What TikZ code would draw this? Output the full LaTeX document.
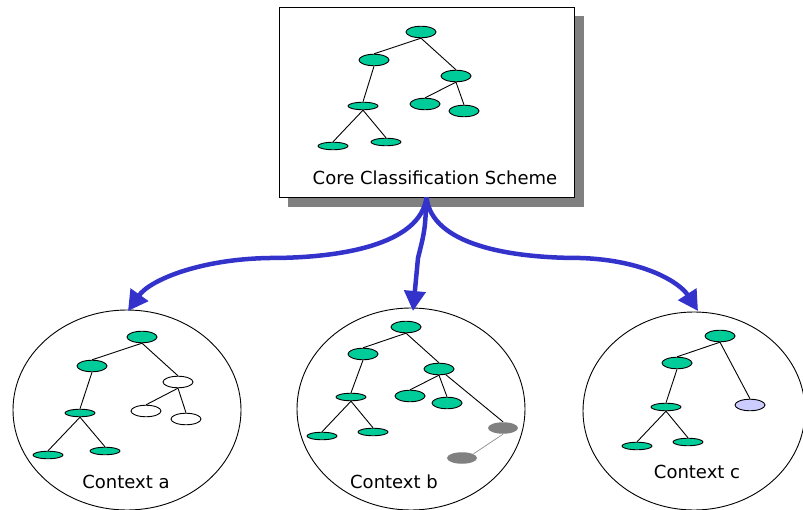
\documentclass[tikz,border=0pt]{standalone}
\usepackage{fontspec}
\setmainfont{DejaVu Sans}
\usetikzlibrary{shapes.geometric,arrows.meta}
\definecolor{leafgreen}{RGB}{0,204,153}
\definecolor{ghostgray}{RGB}{128,128,128}
\definecolor{lilacfill}{RGB}{204,204,255}
\definecolor{flowblue}{RGB}{51,51,204}
\begin{document}
\begin{tikzpicture}[x=1pt,y=-1pt,
  nd/.style={ellipse,draw,line width=0.9pt,fill=leafgreen,minimum width=30pt,minimum height=11.5pt,inner sep=0pt},
  flat/.style={nd,minimum height=7.5pt},
  blank/.style={nd,fill=white},
  ghost/.style={nd,draw=none,fill=ghostgray},
  lilac/.style={nd,fill=lilacfill},
  edge/.style={line width=0.9pt},
  ctx/.style={ellipse,draw,line width=0.9pt,inner sep=0pt},
  lbl/.style={font=\fontsize{18}{21}\selectfont},
  flow/.style={draw=flowblue,line width=4.5pt,-{Triangle[width=21pt,length=20pt]}}]
\useasboundingbox (0,0) rectangle (803,510);

% ---- core scheme box with its shadow ----
\node[fill=ghostgray,minimum width=296pt,minimum height=191pt,inner sep=0pt] (coreshadow) at (436,111.5) {};
\node[draw,fill=white,line width=0.9pt,minimum width=295pt,minimum height=190pt,inner sep=0pt] (core) at (426.5,102) {};

\node[nd]   (r)   at (421,32)  {};
\node[nd]   (l)   at (374,60)  {};
\node[nd]   (rc)  at (456,76)  {};
\node[flat] (ll)  at (363,106) {};
\node[nd]   (rc1) at (425,104) {};
\node[nd]   (rc2) at (464,111) {};
\node[flat] (ll1) at (333,146) {};
\node[flat] (ll2) at (386,142) {};
\draw[edge] (r.south) -- (l.north);
\draw[edge] (r.south) -- (rc.north);
\draw[edge] (l.south) -- (ll.north);
\draw[edge] (ll.south) -- (ll1.north);
\draw[edge] (ll.south) -- (ll2.north);
\draw[edge] (rc.south) -- (rc1.north);
\draw[edge] (rc.south) -- (rc2.north);
\node[lbl] (corelbl) at (435,178) {Core Classification Scheme};

% ---- context a ----
\node[ctx,minimum width=228pt,minimum height=200pt] (ca) at (127,410) {};
\node[nd]    (ar)   at (142,337) {};
\node[nd]    (al)   at (92,366)  {};
\node[blank] (arc)  at (178,382) {};
\node[flat]  (all)  at (80,413)  {};
\node[blank] (arc1) at (146,411) {};
\node[blank] (arc2) at (186,419) {};
\node[flat]  (all1) at (48,455)  {};
\node[flat]  (all2) at (105,451) {};
\draw[edge] (ar.south) -- (al.north);
\draw[edge] (ar.south) -- (arc.north);
\draw[edge] (al.south) -- (all.north);
\draw[edge] (all.south) -- (all1.north);
\draw[edge] (all.south) -- (all2.north);
\draw[edge] (arc.south) -- (arc1.north);
\draw[edge] (arc.south) -- (arc2.north);
\node[lbl] (alabel) at (126,482) {Context a};

% ---- context b ----
\node[ctx,minimum width=228pt,minimum height=202pt] (cb) at (411,409) {};
\node[nd]    (br)   at (406,327) {};
\node[nd]    (bl)   at (363,354) {};
\node[nd]    (brc)  at (439,369) {};
\node[flat]  (bll)  at (351,397) {};
\node[nd]    (brc1) at (410,396) {};
\node[nd]    (brc2) at (447,403) {};
\node[ghost] (brc3) at (503,428) {};
\node[ghost] (bg)   at (462,458) {};
\node[flat]  (bll1) at (322,436) {};
\node[flat]  (bll2) at (373,432) {};
\draw[edge] (br.south) -- (bl.north);
\draw[edge] (br.south) -- (brc.north);
\draw[edge] (bl.south) -- (bll.north);
\draw[edge] (bll.south) -- (bll1.north);
\draw[edge] (bll.south) -- (bll2.north);
\draw[edge] (brc.south) -- (brc1.north);
\draw[edge] (brc.south) -- (brc2.north);
\draw[edge] (brc.-40) -- (brc3.north);
\draw[ghostgray,line width=0.6pt] (brc3.south) -- (bg.20);
\node[lbl] (blabel) at (394,482) {Context b};

% ---- context c ----
\node[ctx,minimum width=222pt,minimum height=198pt] (cc) at (694,411) {};
\node[nd]    (cr)   at (720,336) {};
\node[nd]    (cl)   at (677,363) {};
\node[lilac] (crc)  at (750,405) {};
\node[flat]  (cll)  at (666,407) {};
\node[flat]  (cll1) at (637,446) {};
\node[flat]  (cll2) at (688,442) {};
\draw[edge] (cr.south) -- (cl.north);
\draw[edge] (cr.south) -- (crc.north);
\draw[edge] (cl.south) -- (cll.north);
\draw[edge] (cll.south) -- (cll1.north);
\draw[edge] (cll.south) -- (cll2.north);
\node[lbl] (clabel) at (697,472) {Context c};

% ---- derivation arrows ----
\coordinate (ta) at (128,311);
\coordinate (tb) at (413,311);
\coordinate (tc) at (698,311);
\draw[flow] (core.south) .. controls (420,245) and (340,258) .. (270,258)
            .. controls (200,259) and (150,280) .. (ta);
\draw[flow] (core.south) .. controls (425,230) .. (418,258) -- (tb);
\draw[flow] (core.south) .. controls (432,245) and (510,258) .. (580,258)
            .. controls (645,260) and (680,283) .. (tc);
\end{tikzpicture}
\end{document}
